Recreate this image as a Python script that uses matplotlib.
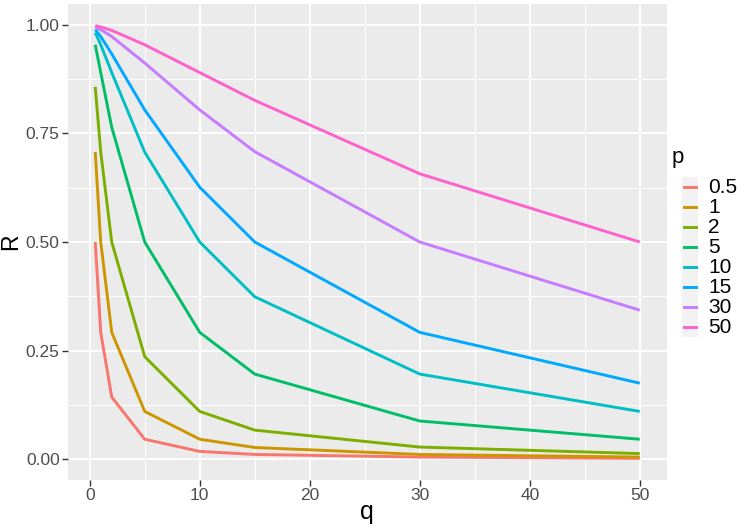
import numpy as np
import matplotlib
matplotlib.use("Agg")
import matplotlib.pyplot as plt
from matplotlib.lines import Line2D
from matplotlib.patches import Rectangle

plt.rcParams['font.family'] = ['Liberation Sans', 'DejaVu Sans']

# data
q_values = [0.5, 1, 2, 5, 10, 15, 30, 50]
p_labels = ['0.5', '1', '2', '5', '10', '15', '30', '50']
r_p05 = [0.500, 0.292, 0.143, 0.046, 0.018, 0.011, 0.005, 0.002]
r_p1 = [0.707, 0.500, 0.292, 0.110, 0.046, 0.027, 0.011, 0.005]
r_p2 = [0.857, 0.707, 0.500, 0.236, 0.110, 0.067, 0.028, 0.013]
r_p5 = [0.954, 0.890, 0.764, 0.500, 0.292, 0.196, 0.088, 0.046]
r_p10 = [0.982, 0.954, 0.890, 0.707, 0.500, 0.374, 0.196, 0.110]
r_p15 = [0.989, 0.973, 0.933, 0.804, 0.626, 0.500, 0.292, 0.175]
r_p30 = [0.995, 0.989, 0.973, 0.912, 0.804, 0.708, 0.500, 0.343]
r_p50 = [0.998, 0.995, 0.987, 0.954, 0.890, 0.826, 0.657, 0.500]
series = [r_p05, r_p1, r_p2, r_p5, r_p10, r_p15, r_p30, r_p50]

colors = ['#F8766D', '#CD9600', '#7CAE00', '#00BE67',
          '#00BFC4', '#00A9FF', '#C77CFF', '#FF61CC']

W, H = 747, 529
fig = plt.figure(figsize=(W / 100, H / 100), dpi=100)

def fx(px):
    return px / W

def fy(py):
    return 1 - py / H

# panel in pixel coords: left 68, right 667, top 4, bottom 480
ax = fig.add_axes([fx(68), fy(480), fx(667) - fx(68), fy(4) - fy(480)])
ax.set_facecolor('#EBEBEB')
for s in ax.spines.values():
    s.set_visible(False)

for vals, c in zip(series, colors):
    ax.plot(q_values, vals, color=c, lw=2.1, solid_capstyle='butt', zorder=3)

# ggplot-like expansion
xr = max(q_values) - min(q_values)
ax.set_xlim(min(q_values) - 0.05 * xr, max(q_values) + 0.05 * xr)
allv = np.concatenate(series)
yr = allv.max() - allv.min()
ax.set_ylim(allv.min() - 0.05 * yr, allv.max() + 0.05 * yr)

ax.set_xticks([0, 10, 20, 30, 40, 50])
ax.set_xticks([5, 15, 25, 35, 45], minor=True)
ax.set_yticks([0, 0.25, 0.5, 0.75, 1.0])
ax.set_yticklabels(['0.00', '0.25', '0.50', '0.75', '1.00'])
ax.set_yticks([0.125, 0.375, 0.625, 0.875], minor=True)
ax.grid(which='major', color='white', lw=1.3, zorder=0)
ax.grid(which='minor', color='white', lw=0.65, zorder=0)
ax.set_axisbelow(True)
ax.tick_params(which='major', length=4, width=1, color='#333333',
               labelsize=12.5, labelcolor='#4D4D4D', pad=2)
ax.tick_params(which='minor', length=0)

# axis titles placed where the reference has them
fig.text(fx(367), fy(519), 'q', fontsize=18, ha='center', va='baseline')
fig.text(fx(11), fy(242), 'R', fontsize=16.5, ha='center', va='center',
         rotation=90)

# legend drawn by hand in figure pixels
fig.text(fx(672), fy(158), 'p', fontsize=16, ha='left', va='center')
fig.patches.append(Rectangle((fx(681.5), fy(337)), fx(697.5) - fx(681.5),
                             fy(177) - fy(337), transform=fig.transFigure,
                             facecolor='#F2F2F2', edgecolor='none'))
for i, (lab, c) in enumerate(zip(p_labels, colors)):
    yy = 187.3 + 20 * i
    fig.lines.append(Line2D([fx(683.5), fx(695.5)], [fy(yy), fy(yy)],
                            transform=fig.transFigure, color=c, lw=2.1))
    fig.text(fx(708), fy(yy), lab, fontsize=15, ha='left', va='center')

fig.savefig('out.png', dpi=100)
